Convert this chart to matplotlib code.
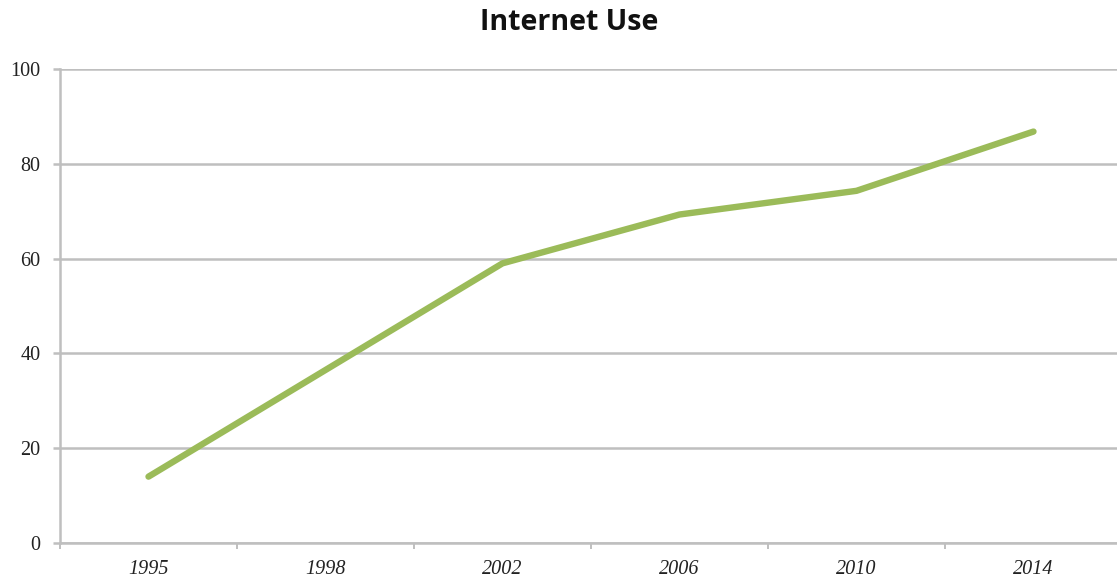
import matplotlib.pyplot as plt
import numpy as np

years = ["1995", "1998", "2002", "2006", "2010", "2014"]
usage = [14, 36.5, 59, 69.3, 74.3, 86.8]

grid_gray = "#bfbfbf"
line_green = "#9bbb59"

fig = plt.figure(figsize=(11.17, 5.79), dpi=100)
ax = fig.add_axes([60 / 1117, 36 / 579, 1062 / 1117, 474 / 579])

x = np.arange(len(years))
ax.plot(x, usage, color=line_green, linewidth=4.6, solid_capstyle="round", zorder=3)

ax.set_xlim(-0.5, len(years) - 0.5)
ax.set_ylim(0, 100)
ax.set_yticks(range(0, 101, 20))
ax.yaxis.grid(True, color=grid_gray, linewidth=1.8)
ax.set_axisbelow(True)

# category labels in the middle, tick marks on the boundaries
ax.set_xticks(x)
ax.set_xticklabels(years, fontfamily="Liberation Serif", fontstyle="italic",
                   fontsize=14.5, color="#222222")
ax.set_xticks(np.arange(-0.5, len(years)), minor=True)
ax.tick_params(axis="x", which="major", length=0, pad=12)
ax.tick_params(axis="x", which="minor", length=4, width=1.4, color=grid_gray, direction="out")
ax.tick_params(axis="y", length=5, width=1.8, color=grid_gray, pad=9)
for lbl in ax.get_yticklabels():
    lbl.set_fontfamily("Liberation Serif")
    lbl.set_fontsize(14.5)
    lbl.set_color("#222222")

for side in ["top", "right"]:
    ax.spines[side].set_visible(False)
ax.spines["left"].set_color(grid_gray)
ax.spines["left"].set_linewidth(1.8)
ax.spines["bottom"].set_color(grid_gray)
ax.spines["bottom"].set_linewidth(1.8)

fig.text(569 / 1117, 1 - 23 / 579, "Internet Use", ha="center", va="center",
         fontfamily="Open Sans", fontweight="bold", fontsize=20.5, color="#111111")

fig.savefig("out.png", dpi=100)
